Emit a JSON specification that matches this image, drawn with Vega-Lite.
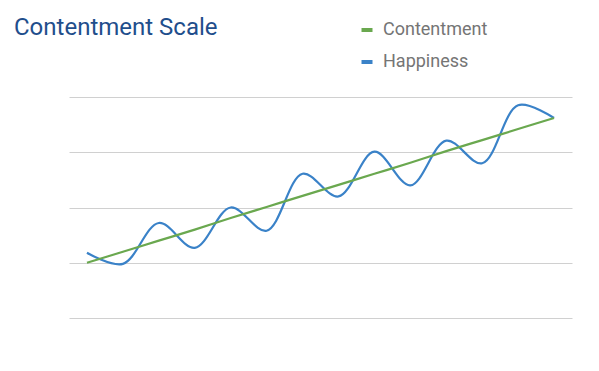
{
  "$schema": "https://vega.github.io/schema/vega-lite/v6.json",
  "autosize": {"type": "none"},
  "width": 503,
  "height": 221,
  "padding": {"left": 69, "top": 97, "right": 27, "bottom": 53},
  "background": "white",
  "config": {"view": {"stroke": null}, "font": "Roboto"},
  "title": {
    "text": "Contentment Scale",
    "anchor": "start",
    "frame": "group",
    "orient": "top",
    "baseline": "alphabetic",
    "offset": 0,
    "dy": 38,
    "dx": -55,
    "font": "Roboto",
    "fontSize": 24,
    "fontWeight": "normal",
    "color": "#1F4E8C"
  },
  "data": {
    "values": [
      {"point": 1, "series": "Happiness", "value": 1.18},
      {"point": 2, "series": "Happiness", "value": 0.98},
      {"point": 3, "series": "Happiness", "value": 1.72},
      {"point": 4, "series": "Happiness", "value": 1.27},
      {"point": 5, "series": "Happiness", "value": 2.0},
      {"point": 6, "series": "Happiness", "value": 1.58},
      {"point": 7, "series": "Happiness", "value": 2.61},
      {"point": 8, "series": "Happiness", "value": 2.2},
      {"point": 9, "series": "Happiness", "value": 3.01},
      {"point": 10, "series": "Happiness", "value": 2.4},
      {"point": 11, "series": "Happiness", "value": 3.21},
      {"point": 12, "series": "Happiness", "value": 2.8},
      {"point": 13, "series": "Happiness", "value": 3.85},
      {"point": 14, "series": "Happiness", "value": 3.62},
      {"point": 1, "series": "Contentment", "value": 1.0},
      {"point": 2, "series": "Contentment", "value": 1.2},
      {"point": 3, "series": "Contentment", "value": 1.4},
      {"point": 4, "series": "Contentment", "value": 1.6},
      {"point": 5, "series": "Contentment", "value": 1.81},
      {"point": 6, "series": "Contentment", "value": 2.01},
      {"point": 7, "series": "Contentment", "value": 2.21},
      {"point": 8, "series": "Contentment", "value": 2.41},
      {"point": 9, "series": "Contentment", "value": 2.61},
      {"point": 10, "series": "Contentment", "value": 2.81},
      {"point": 11, "series": "Contentment", "value": 3.02},
      {"point": 12, "series": "Contentment", "value": 3.22},
      {"point": 13, "series": "Contentment", "value": 3.42},
      {"point": 14, "series": "Contentment", "value": 3.62}
    ]
  },
  "mark": {"type": "line", "interpolate": "catmull-rom", "strokeWidth": 2.2},
  "encoding": {
    "x": {
      "field": "point",
      "type": "ordinal",
      "scale": {"type": "point", "padding": 0.5},
      "axis": null
    },
    "y": {
      "field": "value",
      "type": "quantitative",
      "scale": {"domain": [0, 4], "nice": false, "zero": false},
      "axis": {
        "values": [0, 1, 2, 3, 4],
        "grid": true,
        "gridColor": "#D0D0D0",
        "gridWidth": 1,
        "domain": false,
        "ticks": false,
        "labels": false,
        "title": null
      }
    },
    "color": {
      "field": "series",
      "type": "nominal",
      "scale": {"domain": ["Contentment", "Happiness"], "range": ["#6AA84F", "#3A82C8"]},
      "legend": {
        "orient": "none",
        "legendX": 289,
        "legendY": -76,
        "title": null,
        "symbolType": "stroke",
        "symbolSize": 121,
        "symbolStrokeWidth": 4,
        "labelFont": "Roboto",
        "labelFontSize": 18,
        "labelColor": "#757575",
        "labelOffset": 7,
        "rowPadding": 14
      }
    }
  }
}
